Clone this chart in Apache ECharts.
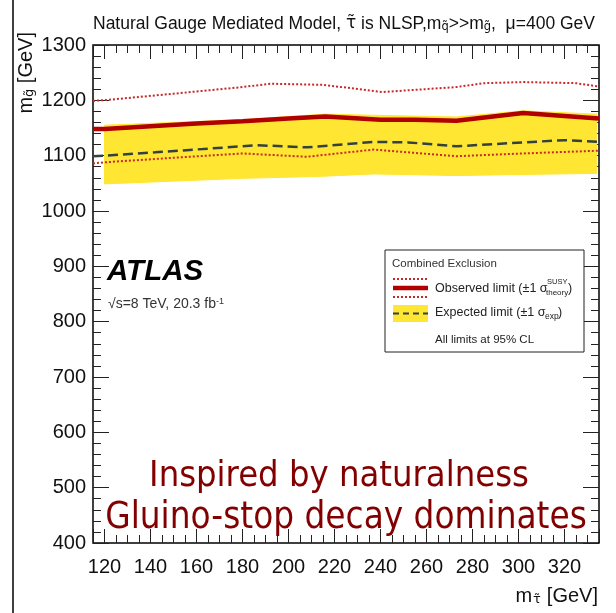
<!DOCTYPE html>
<html>
<head>
<meta charset="utf-8">
<script src="https://cdn.jsdelivr.net/npm/echarts@6/dist/echarts.min.js"></script>
<style>html,body{margin:0;padding:0;background:#fff;}#c{width:616px;height:613px;}</style>
</head>
<body>
<div id="c"></div>
<script>
// ---- data ----
const xMin = 115, xMax = 335, yMin = 400, yMax = 1300;

const obsX   = [115, 120, 140, 160, 180, 200, 216, 240, 255, 273, 302, 335];
const obsY   = [1148, 1148, 1153, 1158, 1162, 1167, 1171, 1165, 1165, 1163, 1177, 1167];

const obsUpX = [115, 122, 150, 180, 192, 215, 241, 273, 285, 302, 325, 335];
const obsUpY = [1199, 1201, 1212, 1224, 1230, 1228, 1215, 1224, 1231, 1233, 1231, 1225];

const obsDnX = [115, 120, 142, 180, 208, 237, 273, 302, 335];
const obsDnY = [1086, 1088, 1094, 1104, 1098, 1111, 1099, 1104, 1109];

const expX   = [115, 120, 142, 180, 186, 208, 237, 252, 273, 302, 320, 335];
const expY   = [1099, 1100, 1106, 1117, 1119, 1115, 1125, 1124, 1117, 1124, 1128, 1125];

const bandX  = [120, 180, 208, 216, 237, 273, 302, 334];
const bandHi = [1155, 1165, 1173, 1175, 1173, 1170, 1181, 1175];
const bandLo = [1049, 1059, 1062, 1063, 1067, 1064, 1066, 1068];

const mainNote1 = 'Inspired by naturalness';
const mainNote2 = 'Gluino-stop decay dominates';

// ---- build ----
const pair = (xs, ys) => xs.map((x, i) => [x, ys[i]]);
const FONT = '"Liberation Sans", Arial, sans-serif';
const MARKFONT = '"DejaVu Sans", sans-serif';
const RED = '#b00000', RED_D = '#c8282a', YEL = '#ffe633', DASH = '#33413f';

const chart = echarts.init(document.getElementById('c'), null, {renderer: 'canvas'});

const axisX = (pos, labels) => ({
  type: 'value', position: pos, min: xMin, max: xMax, splitNumber: 11,
  axisLine: {show: false},
  splitLine: {show: false},
  axisTick: {show: true, inside: true, length: 14, lineStyle: {color: '#222', width: 1}},
  minorTick: {show: true, splitNumber: 4, length: 8, lineStyle: {color: '#222', width: 1}},
  axisLabel: {show: labels, margin: 14, fontSize: 20, fontFamily: FONT, color: '#111',
    showMinLabel: false, showMaxLabel: false,
    formatter: v => (Math.abs(v % 20) < 1e-6 ? String(v) : '')}
});
const axisY = (pos, labels) => ({
  type: 'value', position: pos, min: yMin, max: yMax, interval: 100,
  axisLine: {show: false},
  splitLine: {show: false},
  axisTick: {show: true, inside: true, length: 16, lineStyle: {color: '#222', width: 1}},
  minorTick: {show: true, splitNumber: 5, length: 8, lineStyle: {color: '#222', width: 1}},
  axisLabel: {show: labels, margin: 7, fontSize: 20, fontFamily: FONT, color: '#111',
    formatter: v => String(v)}
});

const txt = (size, color, extra) => Object.assign({fontSize: size, fontFamily: FONT, fill: color, color: color}, extra || {});

const option = {
  backgroundColor: '#fff',
  animation: false,
  grid: {left: 93, right: 17, top: 45, bottom: 70, show: true, borderColor: '#000', borderWidth: 1.5,
         containLabel: false, outerBoundsMode: 'none'},
  xAxis: [axisX('bottom', true), axisX('top', false)],
  yAxis: [axisY('left', true), axisY('right', false)],
  series: [
    {type: 'custom', name: 'band', z: 1, silent: true,
     data: bandX.map((x, i) => [x, bandLo[i], bandHi[i]]),
     encode: {x: 0, y: [1, 2]},
     renderItem: (params, api) => {
       if (params.dataIndex !== 0) return null;
       const pts = [];
       for (let i = 0; i < bandX.length; i++) pts.push(api.coord([bandX[i], bandHi[i]]));
       for (let i = bandX.length - 1; i >= 0; i--) pts.push(api.coord([bandX[i], bandLo[i]]));
       return {type: 'polygon', shape: {points: pts}, style: {fill: YEL, stroke: YEL, lineWidth: 1}};
     }},
    {type: 'line', name: 'expected', data: pair(expX, expY), showSymbol: false, z: 3,
     lineStyle: {color: DASH, width: 2.5, type: [10, 5]}},
    {type: 'line', name: 'obsUp', data: pair(obsUpX, obsUpY), showSymbol: false, z: 3,
     lineStyle: {color: RED_D, width: 2, type: [2, 2]}},
    {type: 'line', name: 'obsDn', data: pair(obsDnX, obsDnY), showSymbol: false, z: 3,
     lineStyle: {color: RED_D, width: 2, type: [2, 2]}},
    {type: 'line', name: 'observed', data: pair(obsX, obsY), showSymbol: false, z: 4,
     lineStyle: {color: RED, width: 4.5}}
  ],
  graphic: [
    // slide frame line on the left
    {type: 'line', shape: {x1: 13, y1: 0, x2: 13, y2: 613}, style: {stroke: '#000', lineWidth: 1.5}},
    // title
    {type: 'text', x: 93, y: 15, style: {
      text: '{a|Natural Gauge Mediated Model, }{t|\u03C4\u0303}{a| is NLSP,m}{s|q\u0303}{a|>>m}{s|g\u0303}{a|,  \u03BC=400 GeV}',
      textAlign: 'left', align: 'left', textVerticalAlign: 'top', verticalAlign: 'top',
      rich: {
        a: txt(17.5, '#111', {lineHeight: 18, verticalAlign: 'top', padding: [0, 0, 5, 0]}),
        t: txt(17, '#111', {fontFamily: MARKFONT, lineHeight: 18, verticalAlign: 'top', padding: [0, 0, 5, 0]}),
        s: txt(11.5, '#111', {fontFamily: MARKFONT, lineHeight: 12, verticalAlign: 'bottom'})
      }}},
    // y axis title (rotated)
    {type: 'text', x: 26, y: 32, rotation: Math.PI / 2, style: {
      text: '{a|m}{s|g\u0303}{a| [GeV]}',
      textAlign: 'right', align: 'right', textVerticalAlign: 'middle', verticalAlign: 'middle',
      rich: {
        a: txt(20, '#111', {lineHeight: 20, verticalAlign: 'top', padding: [0, 0, 6, 0]}),
        s: txt(13, '#111', {fontFamily: MARKFONT, lineHeight: 13, verticalAlign: 'bottom'})
      }}},
    // x axis title
    {type: 'text', x: 598, y: 596, style: {
      text: '{a|m}{s|\u03C4\u0303}{a|[GeV]}',
      textAlign: 'right', align: 'right', textVerticalAlign: 'middle', verticalAlign: 'middle',
      rich: {
        a: txt(20, '#111', {lineHeight: 20, verticalAlign: 'top', padding: [0, 0, 6, 0]}),
        s: txt(13, '#111', {fontFamily: MARKFONT, lineHeight: 13, verticalAlign: 'bottom', padding: [0, 6, 0, 1]})
      }}},
    // ATLAS label
    {type: 'text', x: 107, y: 272, style: {text: 'ATLAS', fontSize: 29.5, fontWeight: 'bold', fontStyle: 'italic',
      fontFamily: FONT, fill: '#000', textAlign: 'left', align: 'left', textVerticalAlign: 'middle', verticalAlign: 'middle'}},
    {type: 'text', x: 108, y: 304, style: {
      text: '{a|\u221As=8 TeV, 20.3 fb}{s|-1}',
      textAlign: 'left', align: 'left', textVerticalAlign: 'middle', verticalAlign: 'middle',
      rich: {
        a: txt(14, '#333', {lineHeight: 14, verticalAlign: 'bottom', padding: [5, 0, 0, 0]}),
        s: txt(9, '#333', {lineHeight: 9, verticalAlign: 'top'})
      }}},
    // legend box
    {type: 'rect', shape: {x: 385, y: 250, width: 199, height: 102}, style: {fill: '#fff', stroke: '#222', lineWidth: 1}, z: 10},
    {type: 'text', x: 392, y: 264, z: 11, style: Object.assign(txt(11.5, '#333'), {text: 'Combined Exclusion',
      textAlign: 'left', align: 'left', textVerticalAlign: 'middle', verticalAlign: 'middle'})},
    {type: 'line', z: 11, shape: {x1: 393, y1: 279, x2: 428, y2: 279}, style: {stroke: RED_D, lineWidth: 2, lineDash: [2, 2]}},
    {type: 'line', z: 11, shape: {x1: 393, y1: 288, x2: 428, y2: 288}, style: {stroke: RED, lineWidth: 4.5}},
    {type: 'line', z: 11, shape: {x1: 393, y1: 297, x2: 428, y2: 297}, style: {stroke: RED_D, lineWidth: 2, lineDash: [2, 2]}},
    {type: 'text', x: 435, y: 289, z: 11, style: Object.assign(txt(12.5, '#222'), {text: 'Observed limit (\u00B11 \u03C3',
      textAlign: 'left', align: 'left', textVerticalAlign: 'middle', verticalAlign: 'middle'})},
    {type: 'text', x: 547, y: 282, z: 11, style: Object.assign(txt(7.5, '#222'), {text: 'SUSY',
      textAlign: 'left', align: 'left', textVerticalAlign: 'middle', verticalAlign: 'middle'})},
    {type: 'text', x: 546, y: 293, z: 11, style: Object.assign(txt(8, '#222'), {text: 'theory',
      textAlign: 'left', align: 'left', textVerticalAlign: 'middle', verticalAlign: 'middle'})},
    {type: 'text', x: 568, y: 289, z: 11, style: Object.assign(txt(12.5, '#222'), {text: ')',
      textAlign: 'left', align: 'left', textVerticalAlign: 'middle', verticalAlign: 'middle'})},
    {type: 'rect', z: 11, shape: {x: 393, y: 305, width: 35, height: 17}, style: {fill: YEL}},
    {type: 'line', z: 12, shape: {x1: 393, y1: 313.5, x2: 428, y2: 313.5}, style: {stroke: DASH, lineWidth: 2, lineDash: [6, 4]}},
    {type: 'text', x: 435, y: 313, z: 11, style: Object.assign(txt(12.5, '#222'), {text: 'Expected limit (\u00B11 \u03C3',
      textAlign: 'left', align: 'left', textVerticalAlign: 'middle', verticalAlign: 'middle'})},
    {type: 'text', x: 545, y: 317, z: 11, style: Object.assign(txt(8.5, '#222'), {text: 'exp',
      textAlign: 'left', align: 'left', textVerticalAlign: 'middle', verticalAlign: 'middle'})},
    {type: 'text', x: 558, y: 313, z: 11, style: Object.assign(txt(12.5, '#222'), {text: ')',
      textAlign: 'left', align: 'left', textVerticalAlign: 'middle', verticalAlign: 'middle'})},
    {type: 'text', x: 435, y: 340, z: 11, style: Object.assign(txt(11.5, '#222'), {text: 'All limits at 95% CL',
      textAlign: 'left', align: 'left', textVerticalAlign: 'middle', verticalAlign: 'middle'})},
    // big notes
    {type: 'text', x: 339, y: 477, z: 20, style: {text: mainNote1, fontSize: 36, fontFamily: '"DejaVu Sans Condensed", "DejaVu Sans", sans-serif',
      fill: '#830000', textAlign: 'center', align: 'center', textVerticalAlign: 'middle', verticalAlign: 'middle'}},
    {type: 'text', x: 346, y: 519, z: 20, style: {text: mainNote2, fontSize: 36.5, fontFamily: '"DejaVu Sans Condensed", "DejaVu Sans", sans-serif',
      fill: '#830000', textAlign: 'center', align: 'center', textVerticalAlign: 'middle', verticalAlign: 'middle'}}
  ]
};
chart.setOption(option);
</script>
</body>
</html>
